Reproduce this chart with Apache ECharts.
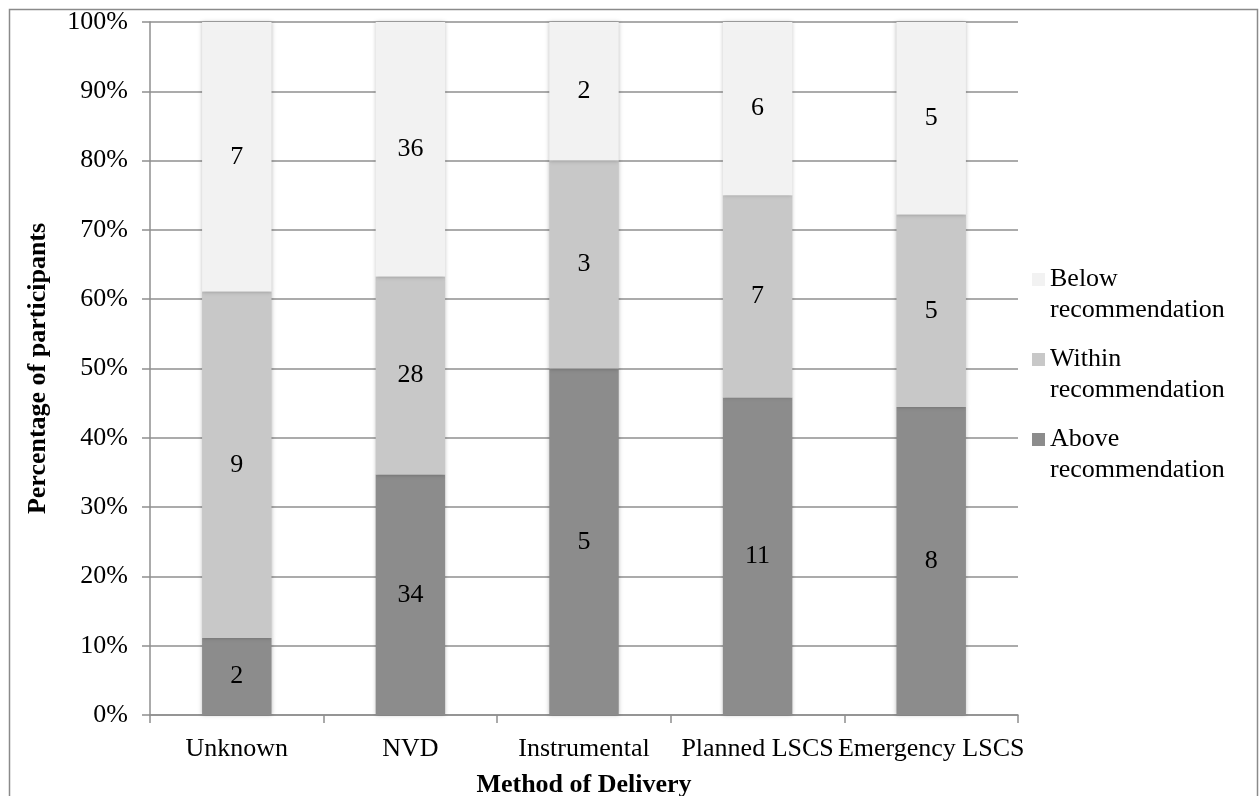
<!DOCTYPE html>
<html><head><meta charset="utf-8">
<script src="https://cdn.jsdelivr.net/npm/echarts@6/dist/echarts.min.js"></script>
<style>html,body{margin:0;padding:0;background:#fff;overflow:hidden}#c{width:1260px;height:796px}</style>
</head><body><div id="c"></div>
<script>
const categories = ['Unknown', 'NVD', 'Instrumental', 'Planned LSCS', 'Emergency LSCS'];
const aboveCounts = [2, 34, 5, 11, 8];
const withinCounts = [9, 28, 3, 7, 5];
const belowCounts = [7, 36, 2, 6, 5];
const seriesNames = ['Above recommendation', 'Within recommendation', 'Below recommendation'];
const seriesColors = ['#8c8c8c', '#c8c8c8', '#f2f2f2'];
const yTicks = [0, 10, 20, 30, 40, 50, 60, 70, 80, 90, 100];

const countSets = [aboveCounts, withinCounts, belowCounts];
const totals = categories.map((_, i) => aboveCounts[i] + withinCounts[i] + belowCounts[i]);
const FONT = "'Liberation Serif', 'Times New Roman', serif";
const FS = 26;

const series = countSets.map((counts, s) => ({
  name: seriesNames[s],
  type: 'bar',
  stack: 'total',
  barWidth: '40%',
  data: counts.map((c, i) => ({ value: c / totals[i] * 100, count: c })),
  itemStyle: { color: seriesColors[s], shadowBlur: 4, shadowColor: 'rgba(0,0,0,0.25)' },
  label: {
    show: true, position: 'inside', color: '#000', fontFamily: FONT, fontSize: FS,
    formatter: p => String(p.data.count)
  }
}));

const chart = echarts.init(document.getElementById('c'), null, { renderer: 'canvas' });
chart.setOption({
  animation: false,
  backgroundColor: '#fff',
  textStyle: { fontFamily: FONT },
  graphic: [{
    type: 'rect', left: 7, top: 7, shape: { x: 0, y: 0, width: 1248, height: 800 },
    style: { fill: 'none', stroke: '#8a8a8a', lineWidth: 1.5 }, z: -10
  }],
  grid: { left: 150, right: 242, top: 22, bottom: 81, containLabel: false, outerBoundsMode: 'none' },
  legend: {
    orient: 'vertical', left: 1027, top: 228,
    data: [seriesNames[2], seriesNames[1], seriesNames[0]],
    itemWidth: 13, itemHeight: 13, itemGap: -13,
    icon: 'rect',
    formatter: n => '\n' + n.replace(' ', '\n'),
    textStyle: { fontFamily: FONT, fontSize: FS, color: '#000', lineHeight: 31 }
  },
  xAxis: {
    type: 'category', data: categories,
    name: 'Method of Delivery', nameLocation: 'middle', nameGap: 57,
    nameTextStyle: { fontFamily: FONT, fontSize: FS, fontWeight: 'bold', color: '#000' },
    axisLine: { lineStyle: { color: '#8f8f8f', width: 1.5 } },
    axisTick: { show: true, length: 8, alignWithLabel: false, lineStyle: { color: '#8f8f8f', width: 1.5 } },
    axisLabel: { interval: 0, fontFamily: FONT, fontSize: FS, color: '#000', margin: 21, hideOverlap: false }
  },
  yAxis: {
    type: 'value', min: 0, max: 100, interval: 10,
    name: 'Percentage of participants', nameLocation: 'middle', nameGap: 99, nameRotate: 90,
    nameTextStyle: { fontFamily: FONT, fontSize: FS, fontWeight: 'bold', color: '#000' },
    axisLine: { show: true, lineStyle: { color: '#8f8f8f', width: 1.5 } },
    axisTick: { show: true, length: 8, lineStyle: { color: '#8f8f8f', width: 1.5 } },
    splitLine: { show: true, lineStyle: { color: '#8f8f8f', width: 1.5 } },
    axisLabel: { fontFamily: FONT, fontSize: FS, color: '#000', margin: 22,
      formatter: v => (yTicks.includes(v) ? v + '%' : '') }
  },
  series: series
});
</script></body></html>
